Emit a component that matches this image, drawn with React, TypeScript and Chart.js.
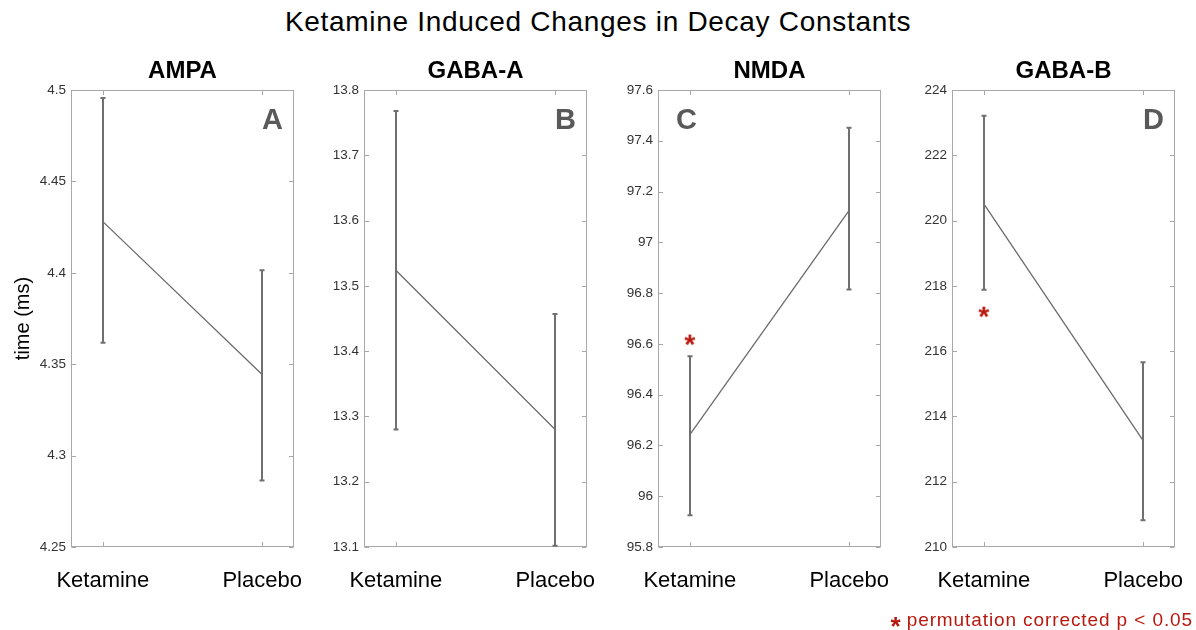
import React, { useEffect, useRef } from 'react';
import { Chart, registerables } from 'chart.js';

Chart.register(...registerables);

// ---------- data ----------
const conditions = ['Ketamine', 'Placebo'];
const panelTitles = ['AMPA', 'GABA-A', 'NMDA', 'GABA-B'];
const panelLetters = ['A', 'B', 'C', 'D'];

const ampaMean = [4.428, 4.3444];
const ampaUpper = [4.4956, 4.4014];
const ampaLower = [4.3617, 4.2864];
const ampaTicks = [4.25, 4.3, 4.35, 4.4, 4.45, 4.5];
const ampaSig: (number | null)[] = [null, null];

const gabaAMean = [13.524, 13.28];
const gabaAUpper = [13.768, 13.457];
const gabaALower = [13.28, 13.102];
const gabaATicks = [13.1, 13.2, 13.3, 13.4, 13.5, 13.6, 13.7, 13.8];
const gabaASig: (number | null)[] = [null, null];

const nmdaMean = [96.243, 97.126];
const nmdaUpper = [96.551, 97.451];
const nmdaLower = [95.925, 96.814];
const nmdaTicks = [95.8, 96, 96.2, 96.4, 96.6, 96.8, 97, 97.2, 97.4, 97.6];
const nmdaSig: (number | null)[] = [96.617, null];

const gabaBMean = [220.51, 213.26];
const gabaBUpper = [223.21, 215.66];
const gabaBLower = [217.88, 210.82];
const gabaBTicks = [210, 212, 214, 216, 218, 220, 222, 224];
const gabaBSig: (number | null)[] = [217.21, null];

const mainTitle = 'Ketamine Induced Changes in Decay Constants';
const yAxisTitle = 'time (ms)';
const footnote = 'permutation corrected p < 0.05';

// ---------- layout ----------
const FONT = '"Liberation Sans", Arial, Helvetica, sans-serif';
const PANEL_LEFT = [71, 364, 658, 952];
const LETTER_SIDE = ['right', 'right', 'left', 'right'];
const PLOT_W = 223;
const AXIS_W = 70;
const PAD_R = 20;
const CANVAS_TOP = 50;
const CANVAS_H = 554;
const X_AXIS_H = 57;
const RED = '#b8190f';

type Spec = {
  title: string;
  letter: string;
  letterSide: string;
  mean: number[];
  upper: number[];
  lower: number[];
  ticks: number[];
  sig: (number | null)[];
  yTitle: string | null;
  left: number;
};

const specs: Spec[] = [
  [ampaMean, ampaUpper, ampaLower, ampaTicks, ampaSig],
  [gabaAMean, gabaAUpper, gabaALower, gabaATicks, gabaASig],
  [nmdaMean, nmdaUpper, nmdaLower, nmdaTicks, nmdaSig],
  [gabaBMean, gabaBUpper, gabaBLower, gabaBTicks, gabaBSig],
].map((d, i) => ({
  title: panelTitles[i],
  letter: panelLetters[i],
  letterSide: LETTER_SIDE[i],
  mean: d[0] as number[],
  upper: d[1] as number[],
  lower: d[2] as number[],
  ticks: d[3] as number[],
  sig: d[4] as (number | null)[],
  yTitle: i === 0 ? yAxisTitle : null,
  left: PANEL_LEFT[i],
}));

function makeStar(): HTMLCanvasElement {
  const c = document.createElement('canvas');
  c.width = 18;
  c.height = 18;
  const g = c.getContext('2d')!;
  g.fillStyle = RED;
  g.font = `bold 28px ${FONT}`;
  g.textAlign = 'center';
  g.textBaseline = 'alphabetic';
  const m = g.measureText('*');
  const asc = m.actualBoundingBoxAscent;
  const desc = m.actualBoundingBoxDescent;
  const bx = 9 - (m.actualBoundingBoxRight - m.actualBoundingBoxLeft) / 2;
  const by = 9 + (asc - desc) / 2;
  g.fillText('*', bx, by);
  return c;
}

function makeDecor(spec: Spec) {
  return {
    id: 'decor',
    beforeDatasetsDraw(chart: any) {
      const { ctx, chartArea: ca, scales } = chart;
      const x = scales.x;
      const y = scales.y;
      ctx.save();
      ctx.strokeStyle = '#a8a8a8';
      ctx.lineWidth = 1;
      const l = Math.round(ca.left) + 0.5;
      const r = Math.round(ca.right) - 0.5;
      const t = Math.round(ca.top) + 0.5;
      const b = Math.round(ca.bottom) - 0.5;
      ctx.strokeRect(l, t, r - l, b - t);
      const TL = 4.5;
      ctx.beginPath();
      y.ticks.forEach((tk: any) => {
        const py = Math.round(y.getPixelForValue(tk.value)) + 0.5;
        ctx.moveTo(l, py);
        ctx.lineTo(l + TL, py);
        ctx.moveTo(r, py);
        ctx.lineTo(r - TL, py);
      });
      x.ticks.forEach((tk: any) => {
        const px = Math.round(x.getPixelForValue(tk.value)) + 0.5;
        ctx.moveTo(px, t);
        ctx.lineTo(px, t + TL);
        ctx.moveTo(px, b);
        ctx.lineTo(px, b - TL);
      });
      ctx.stroke();
      ctx.restore();
    },
    afterDatasetsDraw(chart: any) {
      const { ctx, chartArea: ca, scales } = chart;
      const x = scales.x;
      const y = scales.y;
      ctx.save();
      ctx.strokeStyle = '#707070';
      ctx.lineWidth = 2;
      spec.mean.forEach((_m, i) => {
        const px = Math.round(x.getPixelForValue(i + 1));
        const yt = y.getPixelForValue(spec.upper[i]);
        const yb = y.getPixelForValue(spec.lower[i]);
        ctx.beginPath();
        ctx.moveTo(px, yt);
        ctx.lineTo(px, yb);
        ctx.moveTo(px - 2.5, yt);
        ctx.lineTo(px + 2.5, yt);
        ctx.moveTo(px - 2.5, yb);
        ctx.lineTo(px + 2.5, yb);
        ctx.stroke();
      });
      // panel letter
      ctx.fillStyle = '#595959';
      ctx.font = `bold 29px ${FONT}`;
      ctx.textBaseline = 'alphabetic';
      if (spec.letterSide === 'right') {
        ctx.textAlign = 'right';
        ctx.fillText(spec.letter, ca.right - 11, ca.top + 39);
      } else {
        ctx.textAlign = 'left';
        ctx.fillText(spec.letter, ca.left + 18, ca.top + 39);
      }
      ctx.restore();
    },
  };
}

function Panel({ spec }: { spec: Spec }) {
  const ref = useRef<HTMLCanvasElement | null>(null);
  useEffect(() => {
    const canvas = ref.current;
    if (!canvas) return;
    const star = makeStar();
    const sigPoints = spec.sig
      .map((s, i) => (s == null ? null : { x: i + 1, y: s }))
      .filter((p) => p !== null);
    const chart = new Chart(canvas, {
      type: 'line',
      data: {
        datasets: [
          {
            type: 'line',
            data: spec.mean.map((m, i) => ({ x: i + 1, y: m })),
            borderColor: '#6b6b6b',
            borderWidth: 1.3,
            pointRadius: 0,
            fill: false,
            tension: 0,
            order: 2,
          } as any,
          {
            type: 'scatter',
            data: sigPoints,
            pointStyle: star,
            pointRadius: 8,
            order: 1,
          } as any,
        ],
      },
      options: {
        responsive: false,
        animation: false,
        events: [],
        layout: { padding: { left: 0, right: PAD_R, top: 0, bottom: 0 } },
        plugins: {
          legend: { display: false },
          tooltip: { enabled: false },
          title: {
            display: true,
            text: spec.title,
            fullSize: false,
            color: '#000',
            font: { family: FONT, size: 24, weight: 'bold' },
            padding: { top: 6.6, bottom: 4.6 },
          },
        },
        scales: {
          x: {
            type: 'linear',
            min: 0.8,
            max: 2.2,
            grid: { display: false, drawTicks: true, tickLength: 20.8 },
            border: { display: false },
            afterBuildTicks: (s: any) => {
              s.ticks = conditions.map((_c, i) => ({ value: i + 1 }));
            },
            afterFit: (s: any) => {
              s.height = X_AXIS_H;
            },
            ticks: {
              callback: (v: any) => conditions[Math.round(Number(v)) - 1] ?? '',
              font: { family: FONT, size: 22 },
              color: '#000',
              padding: 0,
              maxRotation: 0,
              autoSkip: false,
            },
          },
          y: {
            type: 'linear',
            min: spec.ticks[0],
            max: spec.ticks[spec.ticks.length - 1],
            grid: { display: false, drawTicks: false },
            border: { display: false },
            afterBuildTicks: (s: any) => {
              s.ticks = spec.ticks.map((v) => ({ value: v }));
            },
            afterFit: (s: any) => {
              s.width = AXIS_W;
            },
            ticks: {
              callback: (v: any) => String(Number(Number(v).toFixed(4))),
              font: { family: FONT, size: 13.5 },
              color: '#333',
              padding: 5,
            },
            title: {
              display: !!spec.yTitle,
              text: spec.yTitle || '',
              color: '#000',
              font: { family: FONT, size: 20 },
              padding: { top: 10, bottom: 0 },
            },
          },
        },
      } as any,
      plugins: [makeDecor(spec)],
    });
    return () => chart.destroy();
  }, [spec]);
  const w = AXIS_W + PLOT_W + PAD_R;
  return (
    <canvas
      ref={ref}
      width={w}
      height={CANVAS_H}
      style={{
        position: 'absolute',
        left: spec.left - AXIS_W,
        top: CANVAS_TOP,
        width: w,
        height: CANVAS_H,
      }}
    />
  );
}

export default function App() {
  return (
    <div
      style={{
        position: 'absolute',
        left: 0,
        top: 0,
        width: 1196,
        height: 630,
        background: '#fff',
        overflow: 'hidden',
        fontFamily: FONT,
      }}
    >
      <div
        style={{
          position: 'absolute',
          left: 0,
          top: 5,
          width: 1196,
          textAlign: 'center',
          fontSize: 28,
          lineHeight: '34px',
          letterSpacing: '0.7px',
          color: '#000',
        }}
      >
        {mainTitle}
      </div>
      {specs.map((s) => (
        <Panel key={s.title} spec={s} />
      ))}
      <div
        style={{
          position: 'absolute',
          right: 3,
          top: 607,
          fontSize: 19,
          lineHeight: '20px',
          letterSpacing: '0.9px',
          color: RED,
          whiteSpace: 'nowrap',
        }}
      >
        <span
          style={{
            fontWeight: 'bold',
            fontSize: 26,
            position: 'relative',
            top: 9,
            letterSpacing: 0,
            marginRight: 6,
          }}
        >
          *
        </span>
        {footnote}
      </div>
    </div>
  );
}
